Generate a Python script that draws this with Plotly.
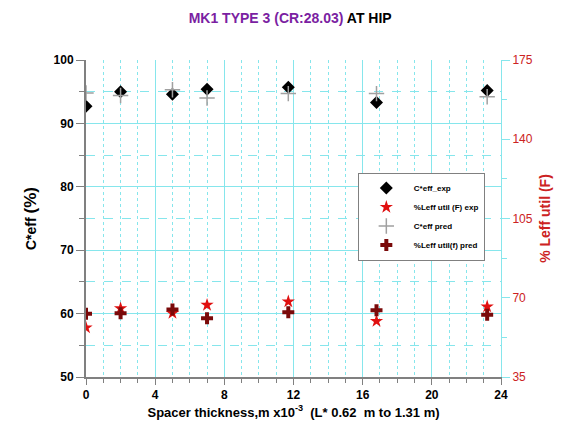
import plotly.graph_objects as go

spacer = [0, 2, 5, 7, 11.7, 16.8, 23.2]
ceff_exp = [92.7, 95.0, 94.6, 95.4, 95.7, 93.3, 95.2]
ceff_pred = [94.8, 94.4, 95.3, 94.0, 94.7, 94.7, 94.2]
leff_exp = [56.8, 65.3, 63.2, 66.8, 68.3, 59.7, 66.1]
leff_pred = [62.9, 63.2, 64.8, 61.0, 63.6, 64.5, 62.5]

cyan = "#86e6ec"
gray = "#808080"
red = "#cc2222"
FONT = "Liberation Sans, Arial, sans-serif"

fig = go.Figure()
fig.add_trace(go.Scatter(x=spacer, y=ceff_exp, mode="markers", name="C*eff_exp",
                         marker=dict(symbol="diamond", size=10, color="black")))
fig.add_trace(go.Scatter(x=spacer, y=leff_exp, mode="markers", name="%Leff util (F) exp", yaxis="y2",
                         marker=dict(symbol="star", size=10, color="#e01010")))
fig.add_trace(go.Scatter(x=spacer, y=ceff_pred, mode="markers", name="C*eff pred",
                         marker=dict(symbol="cross-thin", size=11, color="#a0a0a0",
                                     line=dict(width=1.5, color="#a0a0a0"))))
fig.add_trace(go.Scatter(x=spacer, y=leff_pred, mode="markers", name="%Leff util(f) pred", yaxis="y2",
                         marker=dict(symbol="cross", size=10, color="#7a0a0a")))

fig.update_layout(
    width=569, height=441,
    margin=dict(l=86, r=68, t=60, b=64),
    paper_bgcolor="white", plot_bgcolor="white",
    font=dict(family=FONT, color="black"),
    title=dict(text="<span style='color:#7b1fa2'>MK1 TYPE 3 (CR:28.03)</span> AT HIP",
               x=0.51, xanchor="center", y=0.958, yanchor="middle",
               font=dict(size=14, family=FONT, color="black", weight="bold")),
    showlegend=True,
    legend=dict(x=0.655, y=0.645, xanchor="left", yanchor="top",
                bgcolor="white", bordercolor=gray, borderwidth=1,
                font=dict(size=8, family=FONT, color="black", weight="bold"),
                tracegroupgap=0, itemwidth=45),
    xaxis=dict(range=[0, 24], tick0=0, dtick=4, showline=True, linecolor=gray, linewidth=2,
               ticks="outside", tickcolor=gray, ticklen=6, tickwidth=1,
               showgrid=True, gridcolor=cyan, gridwidth=1, zeroline=False,
               minor=dict(dtick=1, ticks="outside", ticklen=4, tickcolor=gray,
                          showgrid=True, gridcolor=cyan, griddash="dot", gridwidth=1),
               tickfont=dict(size=12, family=FONT, color="black", weight="bold"),
               title=dict(text="Spacer thickness,m x10<sup>-3</sup>  (L* 0.62  m to 1.31 m)",
                          font=dict(size=13, family=FONT, color="black", weight="bold"), standoff=6),
               mirror=False),
    yaxis=dict(range=[50, 100], tick0=50, dtick=10, showline=True, linecolor=gray, linewidth=2,
               ticks="outside", tickcolor=gray, ticklen=8, tickwidth=1,
               showgrid=True, gridcolor=cyan, gridwidth=1, zeroline=False,
               minor=dict(dtick=5, ticks="outside", ticklen=5, tickcolor=gray,
                          showgrid=True, gridcolor=cyan, griddash="dash", gridwidth=1),
               tickfont=dict(size=12, family=FONT, color="black", weight="bold"),
               title=dict(text="C*eff <span style='font-size:17px'>(%)</span>",
                          font=dict(size=14, family=FONT, color="black", weight="bold"), standoff=14)),
    yaxis2=dict(range=[35, 175], tick0=35, dtick=35, overlaying="y", side="right",
                showline=True, linecolor=cyan, linewidth=1,
                ticks="outside", tickcolor=cyan, ticklen=8, tickwidth=1,
                showgrid=False, zeroline=False,
                minor=dict(dtick=17.5, ticks="outside", ticklen=5, tickcolor=cyan, showgrid=False),
                tickfont=dict(size=12, family=FONT, color=red),
                title=dict(text="% Leff util (F)",
                           font=dict(size=14, family=FONT, color=red, weight="bold"), standoff=8)),
)

fig.write_html("out.html")
